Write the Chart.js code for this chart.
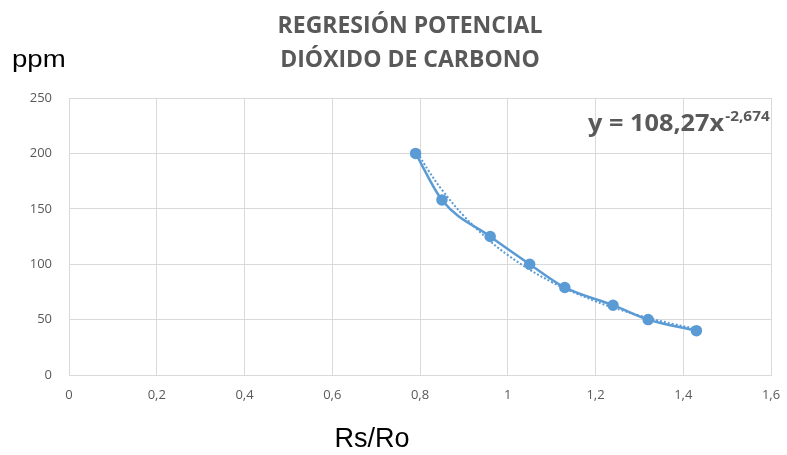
<!DOCTYPE html>
<html>
<head>
<meta charset="utf-8">
<script src="https://cdn.jsdelivr.net/npm/chart.js@4/dist/chart.umd.min.js"></script>
<style>
  html, body { margin: 0; padding: 0; background: #ffffff; }
  #wrap { width: 787px; height: 455px; }
</style>
</head>
<body>
<div id="wrap"><canvas id="c" width="787" height="455"></canvas></div>
<script>
// Measured sensor ratio and gas concentration
const rsRo = [0.79, 0.85, 0.96, 1.05, 1.13, 1.24, 1.32, 1.43];
const ppm = [200, 158, 125, 100, 79, 63, 50, 40];

// Power regression coefficients shown in the equation label
const coefA = 108.27;
const coefB = -2.674;
const trendX = [0.79, 0.82, 0.85, 0.9, 0.96, 1.0, 1.05, 1.1, 1.13, 1.2, 1.24, 1.3, 1.32, 1.38, 1.43];

const titleLines = ['REGRESIÓN POTENCIAL', 'DIÓXIDO DE CARBONO'];
const yTitle = 'ppm';
const xTitle = 'Rs/Ro';

const blue = '#5b9bd5';
const grey = '#595959';
const gridColor = '#d9d9d9';
const sansFont = '"Open Sans", sans-serif';

const measured = rsRo.map((x, i) => ({ x: x, y: ppm[i] }));
const trend = trendX.map(x => ({ x: x, y: coefA * Math.pow(x, coefB) }));

function fmt(v) {
  return Number(v.toFixed(1)).toString().replace('.', ',');
}

// draws text stretched horizontally by factor sx, anchored at its left edge
function wideText(ctx, text, x, y, sx) {
  ctx.save();
  ctx.translate(x, y);
  ctx.scale(sx, 1);
  ctx.textAlign = 'left';
  ctx.fillText(text, 0, 0);
  ctx.restore();
}

const textPlugin = {
  id: 'chartText',
  afterDraw(chart) {
    const ctx = chart.ctx;
    ctx.save();
    ctx.fillStyle = grey;
    ctx.textAlign = 'center';
    ctx.textBaseline = 'alphabetic';
    ctx.font = 'bold 23px ' + sansFont;
    ctx.fillText(titleLines[0], 410, 33);
    ctx.fillText(titleLines[1], 410, 67);

    ctx.fillStyle = '#000000';
    ctx.font = '24px "Liberation Sans", Arial, sans-serif';
    wideText(ctx, yTitle, 12, 67, 1.15);
    ctx.font = '27px "Liberation Sans", Arial, sans-serif';
    ctx.textAlign = 'center';
    ctx.fillText(xTitle, 372, 447);

    // regression equation with superscript exponent
    const eq = 'y = ' + coefA.toFixed(2).replace('.', ',') + 'x';
    const ex = coefB.toFixed(3).replace('.', ',');
    const sx = 1.1;
    ctx.fillStyle = grey;
    ctx.font = 'bold 23px ' + sansFont;
    const w = ctx.measureText(eq).width * sx;
    const x0 = 588;
    wideText(ctx, eq, x0, 131, sx);
    ctx.font = 'bold 14px ' + sansFont;
    wideText(ctx, ex, x0 + w + 1, 121, sx);
    ctx.restore();
  }
};

new Chart(document.getElementById('c'), {
  type: 'scatter',
  data: {
    datasets: [
      {
        label: 'ppm',
        data: measured,
        showLine: true,
        borderColor: blue,
        backgroundColor: blue,
        borderWidth: 2.5,
        pointRadius: 4.5,
        pointHoverRadius: 4.5,
        tension: 0.4,
        cubicInterpolationMode: 'monotone',
        order: 1
      },
      {
        label: 'tendencia',
        data: trend,
        showLine: true,
        borderColor: blue,
        borderWidth: 2,
        borderDash: [2, 2],
        pointRadius: 0,
        tension: 0.4,
        order: 2
      }
    ]
  },
  options: {
    responsive: false,
    animation: false,
    devicePixelRatio: 1,
    layout: { padding: { top: 98, right: 16, left: 0, bottom: 0 } },
    plugins: {
      legend: { display: false },
      title: { display: false },
      tooltip: { enabled: false }
    },
    scales: {
      x: {
        type: 'linear',
        min: 0,
        max: 1.6,
        ticks: {
          stepSize: 0.2,
          color: grey,
          font: { family: sansFont, size: 13 },
          padding: 12,
          callback: v => fmt(v),
          maxRotation: 0
        },
        grid: { color: gridColor, lineWidth: 1, drawTicks: false },
        border: { color: gridColor },
        afterFit(scale) {
          scale.height = 80;
          scale.paddingLeft = 0;
          scale.paddingRight = 0;
        }
      },
      y: {
        type: 'linear',
        min: 0,
        max: 250,
        ticks: {
          stepSize: 50,
          color: grey,
          font: { family: sansFont, size: 13 },
          padding: 17
        },
        grid: { color: gridColor, lineWidth: 1, drawTicks: false },
        border: { color: gridColor },
        afterFit(scale) { scale.width = 69; }
      }
    }
  },
  plugins: [textPlugin]
});
</script>
</body>
</html>
